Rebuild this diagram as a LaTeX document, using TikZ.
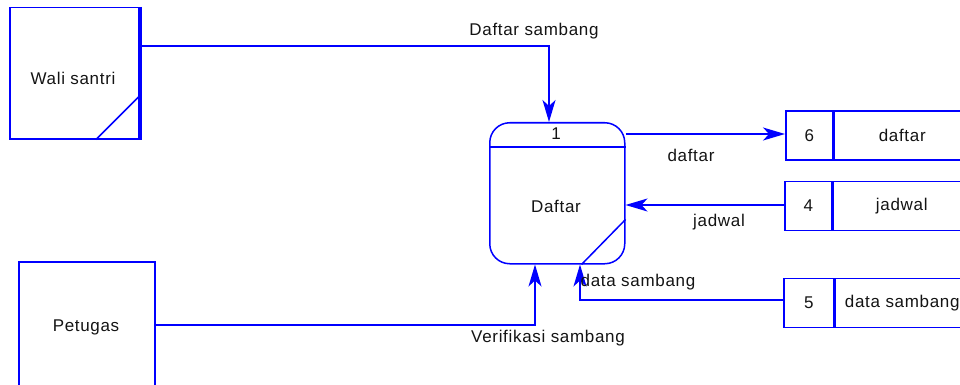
\documentclass[tikz,border=0pt]{standalone}
\usepackage{fontspec}
\setmainfont{Liberation Sans}[LetterSpace=4]
\usetikzlibrary{arrows.meta,calc}
\definecolor{dfdblue}{RGB}{0,0,255}
\definecolor{dfdtext}{RGB}{20,20,20}
\tikzset{
  ent/.style={draw=dfdblue,line width=1.5pt,minimum width=#1,inner sep=0pt,text=dfdtext},
  proc/.style={draw=dfdblue,line width=1.5pt,rounded corners=20pt,minimum width=135pt,minimum height=141pt,inner sep=0pt},
  cell/.style={draw=dfdblue,line width=1.5pt,minimum height=49pt,inner sep=0pt,text=dfdtext,anchor=west},
  flow/.style={draw=dfdblue,line width=1.5pt,-{Stealth[length=22pt,width=13pt,inset=6pt]}},
  lbl/.style={text=dfdtext,inner sep=0pt},
  txt/.style={text=dfdtext,inner sep=0pt}
}
\begin{document}
\begin{tikzpicture}[x=1pt,y=-1pt,font=\fontsize{17}{20}\selectfont]
\useasboundingbox (0,0) rectangle (960,385);
\fill[white] (0,0) rectangle (960,385);

% external entity: Wali santri
\node[ent=129pt,minimum height=131pt,anchor=north west] (wali) at (9,7) {};
\node[txt] (walit) at (73,78) {Wali santri};
\draw[dfdblue,line width=4pt] ([xshift=0.5pt]wali.north east) -- ([xshift=0.5pt]wali.south east);
\draw[dfdblue,line width=1.5pt] ($(wali.south west)+(87,0)$) -- ($(wali.north east)+(1,88)$);

% external entity: Petugas
\node[ent=136pt,minimum height=140pt,anchor=north west] (pet) at (18,261) {};
\node[txt] (pett) at (86,327) {Petugas};

% process
\node[proc,anchor=north west] (proc) at (489,122) {};
\draw[dfdblue,line width=1.5pt] ($(proc.north west)+(0,25)$) coordinate (hl) -- ($(proc.north east)+(0,25)$) coordinate (hr);
\node[txt] (pnum) at (556,134) {1};
\node[txt] (pname) at (556,206) {Daftar};
\draw[dfdblue,line width=1.5pt] ($(proc.south east)+(-44,0)$) coordinate (cb) -- ($(proc.south east)+(0,-45)$) coordinate (cr);

% data stores
\node[cell,minimum width=47pt] (s6n) at (785,135.5) {6};
\node[cell,minimum width=136pt] (s6) at (s6n.east) {daftar};
\node[cell,minimum width=47pt] (s4n) at (784,206) {4};
\node[cell,minimum width=137pt] (s4) at (s4n.east) {jadwal};
\node[cell,minimum width=50pt] (s5n) at (783,303) {5};
\node[cell,minimum width=134pt] (s5) at (s5n.east) {data sambang};

% flows
\coordinate (wa) at ($(wali.north east)+(1,39)$);
\coordinate (pa) at ($(proc.north west)+(60,0)$);
\draw[flow] (wa) -| (pa);
\node[lbl] (l1) at (534,31) {Daftar sambang};

\coordinate (po) at ($(proc.north east)+(0,12)$);
\draw[flow] (po) -- (s6n.west |- po);
\node[lbl] (l2) at (691,155) {daftar};

\coordinate (pi) at ($(proc.north east)+(0,83)$);
\draw[flow] (s4n.west |- pi) -- (pi);
\node[lbl] (l3) at (719,222) {jadwal};

\coordinate (pb) at ($(proc.south west)+(91,0)$);
\draw[flow] (s5n.west |- 0,300) -| (pb);
\node[lbl] (l4) at (638,282) {data sambang};

\coordinate (pv) at ($(proc.south west)+(46,0)$);
\draw[flow] (pet.east |- 0,325) -| (pv);
\node[lbl] (l5) at (548,338) {Verifikasi sambang};
\end{tikzpicture}
\end{document}
